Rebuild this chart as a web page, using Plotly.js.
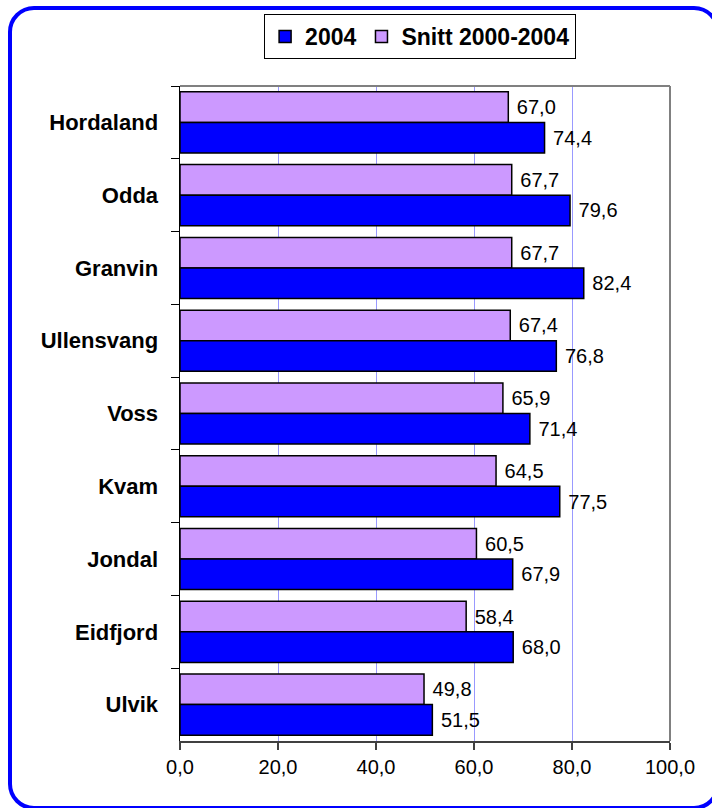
<!DOCTYPE html>
<html>
<head>
<meta charset="utf-8">
<script src="https://cdn.plot.ly/plotly-3.0.1.min.js"></script>
<style>
  html, body { margin: 0; padding: 0; width: 712px; height: 808px; overflow: hidden; background: #fff; }
  #chart { position: absolute; left: 0; top: 0; width: 712px; height: 808px; }
  #frame { position: absolute; left: 8px; top: 6px; width: 712px; height: 804px; box-sizing: border-box;
           border: 4px solid #0000ff; border-radius: 26px; pointer-events: none; }
</style>
</head>
<body>
<div id="chart"></div>
<div id="frame"></div>
<script>
const categories = ["Hordaland", "Odda", "Granvin", "Ullensvang", "Voss", "Kvam", "Jondal", "Eidfjord", "Ulvik"];
const values2004 = [74.4, 79.6, 82.4, 76.8, 71.4, 77.5, 67.9, 68.0, 51.5];
const valuesSnitt = [67.0, 67.7, 67.7, 67.4, 65.9, 64.5, 60.5, 58.4, 49.8];
const seriesNames = ["2004", "Snitt 2000-2004"];

const FONT = "Liberation Sans, Arial, sans-serif";

const traceSnitt = {
  type: "bar", orientation: "h", name: seriesNames[1],
  y: categories, x: valuesSnitt,
  marker: { color: "#cc99ff", line: { color: "#000000", width: 1.5 } },
  texttemplate: "\u00a0%{x:.1f}", textposition: "outside", cliponaxis: false,
  textfont: { family: FONT, size: 20, color: "#000" },
  legendrank: 2, hoverinfo: "x+y"
};
const trace2004 = {
  type: "bar", orientation: "h", name: seriesNames[0],
  y: categories, x: values2004,
  marker: { color: "#0000ff", line: { color: "#000000", width: 1.5 } },
  texttemplate: "\u00a0%{x:.1f}", textposition: "outside", cliponaxis: false,
  textfont: { family: FONT, size: 20, color: "#000" },
  legendrank: 1, hoverinfo: "x+y"
};

const layout = {
  width: 712, height: 808,
  margin: { l: 180, r: 42, t: 86, b: 67 },
  paper_bgcolor: "rgba(0,0,0,0)", plot_bgcolor: "#ffffff",
  separators: ", ",
  font: { family: FONT, color: "#000" },
  barmode: "group", bargap: 0.16, bargroupgap: 0,
  showlegend: true,
  legend: {
    orientation: "h", x: 0.49, xanchor: "center", y: 1.11, yanchor: "top",
    bordercolor: "#000", borderwidth: 1, bgcolor: "#fff",
    font: { family: FONT, size: 23, color: "#000", weight: "bold" },
    traceorder: "normal", itemwidth: 30, tracegroupgap: 0
  },
  xaxis: {
    range: [0, 100], dtick: 20, tickformat: ".1f",
    showgrid: true, gridcolor: "#9999ff", gridwidth: 1, zeroline: false,
    showline: true, linecolor: "#404040", linewidth: 2,
    ticks: "outside", ticklen: 7, tickcolor: "#404040", tickwidth: 1.5,
    tickfont: { family: FONT, size: 20, color: "#000" }
  },
  yaxis: {
    type: "category", autorange: "reversed",
    showgrid: false, zeroline: false,
    showline: true, linecolor: "#000", linewidth: 1.5,
    ticks: "outside", tickson: "boundaries", ticklen: 8, tickcolor: "#000",
    ticklabelstandoff: 16,
    tickfont: { family: FONT, size: 22, color: "#000", weight: "bold" }
  },
  shapes: [
    { type: "line", xref: "paper", yref: "paper", x0: 0, x1: 1, y0: 1, y1: 1, line: { color: "#808080", width: 2 } },
    { type: "line", xref: "paper", yref: "paper", x0: 1, x1: 1, y0: 0, y1: 1, line: { color: "#808080", width: 2 } }
  ]
};

Plotly.newPlot("chart", [traceSnitt, trace2004], layout, { displayModeBar: false, staticPlot: true });
</script>
</body>
</html>
